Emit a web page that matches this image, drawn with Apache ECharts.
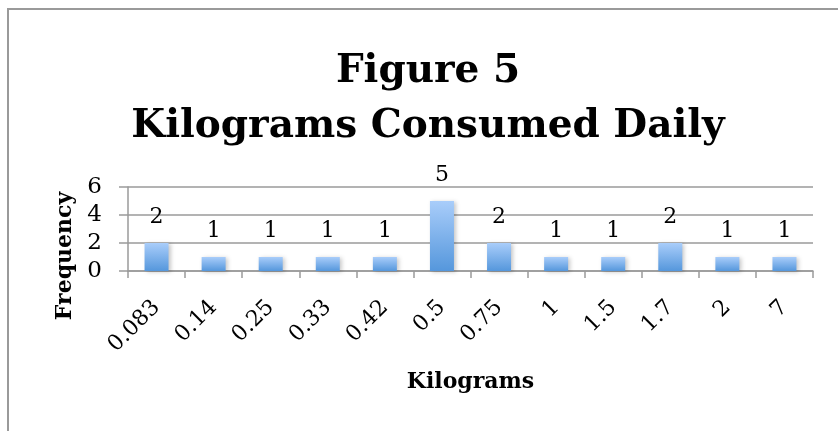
<!DOCTYPE html>
<html>
<head>
<meta charset="utf-8">
<style>
  html, body { margin: 0; padding: 0; background: #ffffff; }
  #chart { width: 838px; height: 431px; }
</style>
<script src="https://cdn.jsdelivr.net/npm/echarts@6/dist/echarts.min.js"></script>
</head>
<body>
<div id="chart"></div>
<script>
// Daily consumption (kg) and how many times each amount occurred
const kilograms = ['0.083', '0.14', '0.25', '0.33', '0.42', '0.5', '0.75', '1', '1.5', '1.7', '2', '7'];
const frequency = [2, 1, 1, 1, 1, 5, 2, 1, 1, 2, 1, 1];
const frequencyTicks = { min: 0, max: 6, interval: 2 };
const titleLines = ['Figure 5', 'Kilograms Consumed Daily'];

const serif = '"DejaVu Serif", "Liberation Serif", serif';
const gridGray = '#9a9a9a';

const chart = echarts.init(document.getElementById('chart'));

chart.setOption({
  backgroundColor: '#ffffff',
  animation: false,
  graphic: [{
    type: 'rect',
    silent: true,
    shape: { x: 8, y: 9, width: 900, height: 500 },
    style: { fill: 'none', stroke: '#9a9a9a', lineWidth: 2 }
  }, {
    // two-line heading, centred a little right of the canvas middle
    type: 'text',
    silent: true,
    x: 428,
    y: 44,
    style: {
      text: titleLines.join('\n'),
      align: 'center',
      verticalAlign: 'top',
      fontFamily: serif,
      fontWeight: 'bold',
      fontSize: 39,
      lineHeight: 55,
      fill: '#000000'
    }
  }],
  grid: { left: 128, right: 25, top: 187, bottom: 160 },
  xAxis: {
    type: 'category',
    data: kilograms,
    name: 'Kilograms',
    nameLocation: 'middle',
    nameGap: 100,
    nameTextStyle: { fontFamily: serif, fontWeight: 'bold', fontSize: 22, color: '#000000' },
    axisLine: { lineStyle: { color: gridGray, width: 1.5 } },
    axisTick: { show: true, length: 7, alignWithLabel: false, lineStyle: { color: gridGray, width: 1.5 } },
    axisLabel: {
      rotate: 45,
      margin: 33,
      interval: 0,
      fontFamily: serif,
      fontSize: 22,
      color: '#000000'
    }
  },
  yAxis: {
    type: 'value',
    min: frequencyTicks.min,
    max: frequencyTicks.max,
    interval: frequencyTicks.interval,
    name: 'Frequency',
    nameLocation: 'middle',
    nameGap: 50,
    nameTextStyle: {
      fontFamily: serif, fontWeight: 'bold', fontSize: 22, color: '#000000',
      padding: [0, 54, 0, 0]
    },
    axisLine: { show: true, lineStyle: { color: gridGray, width: 1.5 } },
    axisTick: { show: true, length: 9, lineStyle: { color: gridGray, width: 1.5 } },
    axisLabel: { margin: 26, fontFamily: serif, fontSize: 23, color: '#000000' },
    splitLine: { lineStyle: { color: gridGray, width: 1.5 } }
  },
  series: [{
    type: 'bar',
    data: frequency,
    barWidth: 24,
    itemStyle: {
      color: new echarts.graphic.LinearGradient(0, 0, 0, 1, [
        { offset: 0, color: '#a9cdfa' },
        { offset: 1, color: '#5597dc' }
      ]),
      shadowColor: 'rgba(0,0,0,0.22)',
      shadowBlur: 4,
      shadowOffsetX: 2,
      shadowOffsetY: 1
    },
    label: {
      show: true,
      position: 'top',
      distance: 15,
      fontFamily: serif,
      fontSize: 22,
      color: '#000000'
    }
  }]
});
</script>
</body>
</html>
